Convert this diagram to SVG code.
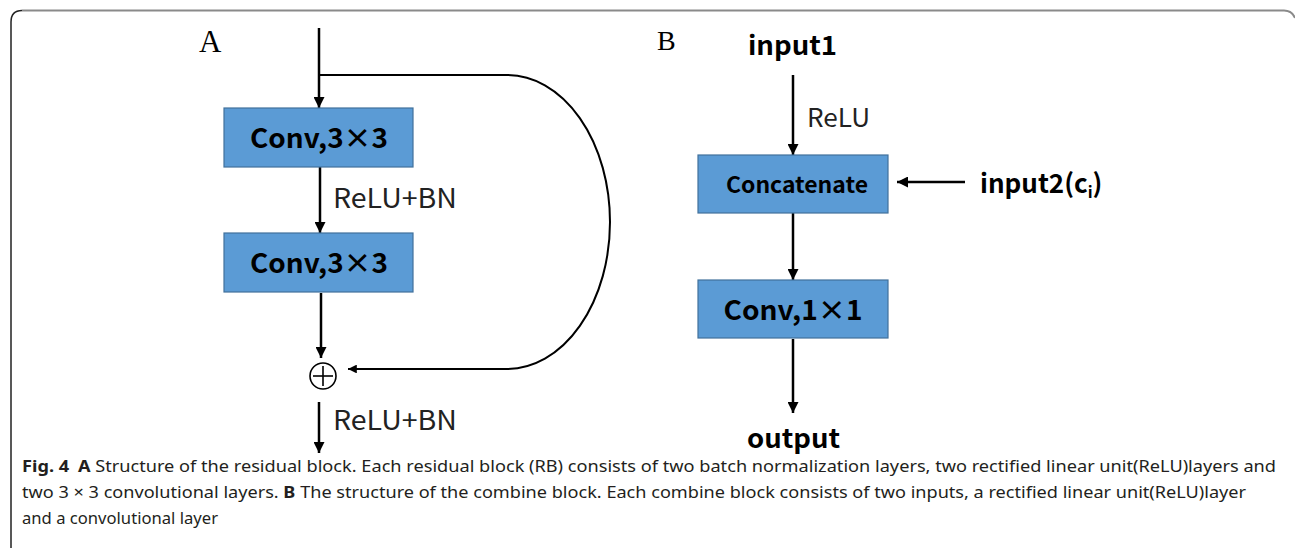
<svg xmlns="http://www.w3.org/2000/svg" width="1295" height="550" viewBox="0 0 1295 550">
<style>
.box{fill:#5B9BD5;stroke:#41719C;stroke-width:1.2}
.bt{font-family:"Noto Sans CJK SC","Noto Sans",sans-serif;font-weight:bold;fill:#000;text-anchor:middle}
.lb{font-family:"Noto Sans CJK SC","Noto Sans",sans-serif;fill:#222}
.io{font-family:"Noto Sans CJK SC","Noto Sans",sans-serif;font-weight:bold;fill:#000}
.ser{font-family:"Liberation Serif",serif;fill:#000}
.ln{stroke:#000;stroke-width:2.5;fill:none}
.cap{font-family:"Noto Sans","Open Sans",sans-serif;font-size:16.5px;fill:#231f20}
</style>
<defs>
<marker id="ah" viewBox="0 0 10 10" refX="10" refY="5" markerWidth="4.4" markerHeight="4.4" markerUnits="strokeWidth" orient="auto">
<path d="M0,0 L10,5 L0,10 z" fill="#000"/>
</marker>
</defs>
<rect width="1295" height="550" fill="#fff"/>
<g id="frame">
<path d="M22,10.5 H1284 Q1292,10.5 1295,18" stroke="#8a8a8a" stroke-width="2" fill="none"/>
<path d="M11,548 V22 Q11,10.5 22,10.5" stroke="#222" stroke-width="1.5" fill="none"/>
</g>
<text class="ser" x="199" y="52" font-size="31">A</text>
<text class="ser" x="657" y="50" font-size="28">B</text>
<g id="connectors">
<line class="ln" x1="319" y1="28" x2="319" y2="108" marker-end="url(#ah)"/>
<path d="M319,75 H507 A103,147 0 0 1 507,369 H348" stroke="#000" stroke-width="2" fill="none" marker-end="url(#ah)"/>
<line class="ln" x1="320" y1="167" x2="320" y2="233" marker-end="url(#ah)"/>
<line class="ln" x1="321" y1="293" x2="321" y2="358" marker-end="url(#ah)"/>
<line class="ln" x1="319" y1="402" x2="319" y2="453" marker-end="url(#ah)"/>
<line class="ln" x1="793" y1="75" x2="793" y2="155" marker-end="url(#ah)"/>
<line class="ln" x1="965" y1="182" x2="897" y2="182" marker-end="url(#ah)"/>
<line class="ln" x1="793" y1="213" x2="793" y2="280" marker-end="url(#ah)"/>
<line class="ln" x1="793" y1="339" x2="793" y2="413" marker-end="url(#ah)"/>
</g>
<g id="conv1">
<rect class="box" x="224" y="108" width="189" height="59"/>
<text class="bt" x="319" y="148" font-size="27" textLength="138" lengthAdjust="spacingAndGlyphs">Conv,3×3</text>
</g>
<g id="conv2">
<rect class="box" x="224" y="233" width="189" height="59"/>
<text class="bt" x="319" y="273" font-size="27" textLength="138" lengthAdjust="spacingAndGlyphs">Conv,3×3</text>
</g>
<g id="plus">
<circle cx="323" cy="376" r="13" fill="none" stroke="#000" stroke-width="1.6"/>
<line x1="313" y1="376" x2="333" y2="376" stroke="#000" stroke-width="1.6"/>
<line x1="323" y1="366" x2="323" y2="386" stroke="#000" stroke-width="1.6"/>
</g>
<text class="lb" x="333" y="208" font-size="27" textLength="124" lengthAdjust="spacingAndGlyphs">ReLU+BN</text>
<text class="lb" x="333" y="430" font-size="27" textLength="124" lengthAdjust="spacingAndGlyphs">ReLU+BN</text>
<g id="input1">
<text class="io" x="748" y="55" font-size="26" textLength="89" lengthAdjust="spacingAndGlyphs">input1</text>
</g>
<text class="lb" x="807" y="127" font-size="25" textLength="63" lengthAdjust="spacingAndGlyphs">ReLU</text>
<g id="concat">
<rect class="box" x="698" y="155" width="190" height="58"/>
<text class="bt" x="797" y="193" font-size="22" textLength="142" lengthAdjust="spacingAndGlyphs">Concatenate</text>
</g>
<g id="input2">
<text class="io" x="980" y="193" font-size="26">input2(c<tspan font-size="16" dy="5">i</tspan><tspan dy="-5">)</tspan></text>
</g>
<g id="conv3">
<rect class="box" x="698" y="280" width="190" height="58"/>
<text class="bt" x="793" y="320" font-size="27" textLength="139" lengthAdjust="spacingAndGlyphs">Conv,1×1</text>
</g>
<g id="output">
<text class="io" x="747" y="448" font-size="26" textLength="93" lengthAdjust="spacingAndGlyphs">output</text>
</g>
<g id="caption">
<text class="cap" x="22" y="472" textLength="1254" lengthAdjust="spacingAndGlyphs"><tspan font-weight="bold">Fig. 4</tspan><tspan font-weight="bold" dx="8">A</tspan> Structure of the residual block. Each residual block (RB) consists of two batch normalization layers, two rectified linear unit(ReLU)layers and</text>
<text class="cap" x="22" y="498" textLength="1224" lengthAdjust="spacingAndGlyphs">two 3 × 3 convolutional layers. <tspan font-weight="bold">B</tspan> The structure of the combine block. Each combine block consists of two inputs, a rectified linear unit(ReLU)layer</text>
<text class="cap" x="22" y="524" textLength="196" lengthAdjust="spacingAndGlyphs">and a convolutional layer</text>
</g>
</svg>
